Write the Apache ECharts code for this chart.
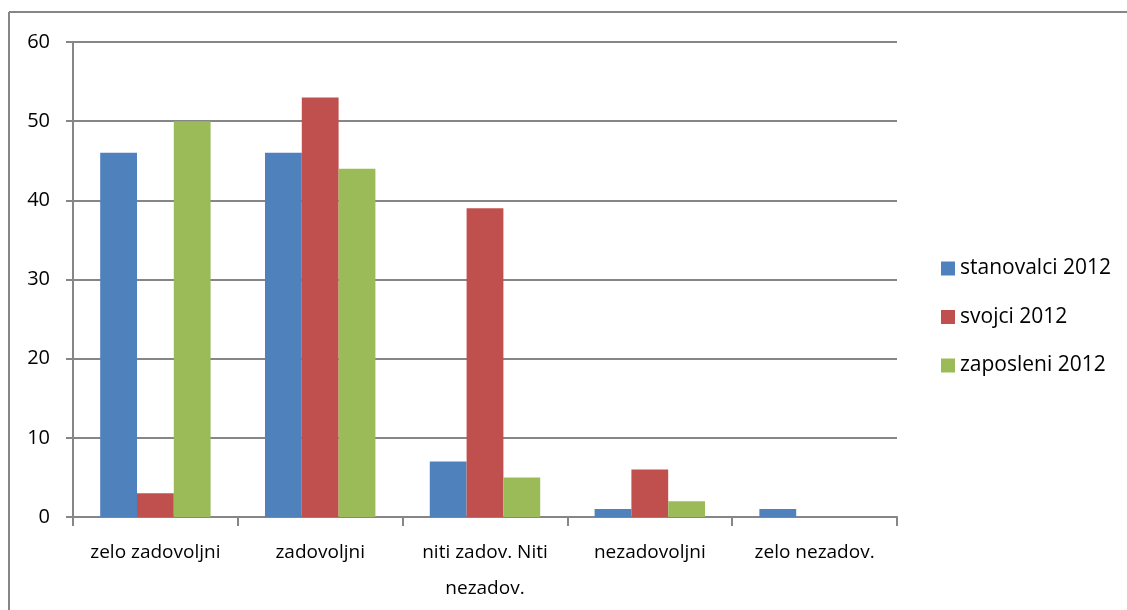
<!DOCTYPE html>
<html><head><meta charset="utf-8">
<script src="https://cdn.jsdelivr.net/npm/echarts@6/dist/echarts.min.js"></script>
<style>html,body{margin:0;padding:0;background:#fff}#c{width:1127px;height:610px}</style>
</head><body><div id="c"></div>
<script>
const categories = ['zelo zadovoljni', 'zadovoljni', 'niti zadov. Niti\nnezadov.', 'nezadovoljni', 'zelo nezadov.'];
const seriesNames = ['stanovalci 2012', 'svojci 2012', 'zaposleni 2012'];
const stanovalci = [46, 46, 7, 1, 1];
const svojci = [3, 53, 39, 6, 0];
const zaposleni = [50, 44, 5, 2, 0];
const yTicks = [0, 10, 20, 30, 40, 50, 60];
const colors = ['#4F81BD', '#C0504D', '#9BBB59'];
const FONT = '"Open Sans", "Noto Sans", sans-serif';

const chart = echarts.init(document.getElementById('c'), null, {renderer: 'canvas'});
const values = [stanovalci, svojci, zaposleni];
chart.setOption({
  animation: false,
  color: colors,
  grid: {left: 73, top: 42, width: 824, height: 475, containLabel: false},
  legend: {
    orient: 'vertical', left: 936, top: 253, itemGap: 27.5,
    itemWidth: 14, itemHeight: 14, icon: 'rect',
    textStyle: {fontFamily: FONT, fontSize: 21, color: '#000', padding: [0, 0, 0, 0]},
    data: seriesNames
  },
  xAxis: {
    type: 'category', data: categories,
    axisLine: {lineStyle: {color: '#868686', width: 2}},
    axisTick: {show: true, length: 9, lineStyle: {color: '#868686', width: 2}},
    axisLabel: {fontFamily: FONT, fontSize: 19, color: '#000', margin: 18, lineHeight: 36, interval: 0}
  },
  yAxis: {
    type: 'value', min: yTicks[0], max: yTicks[yTicks.length - 1], interval: 10,
    axisLine: {show: true, lineStyle: {color: '#868686', width: 2}},
    axisTick: {show: true, length: 7, lineStyle: {color: '#868686', width: 2}},
    splitLine: {lineStyle: {color: '#868686', width: 2}},
    axisLabel: {fontFamily: FONT, fontSize: 20, color: '#000', margin: 23}
  },
  series: seriesNames.map((n, i) => ({
    name: n, type: 'bar', data: values[i],
    barGap: '0%', barCategoryGap: '33%'
  })),
  graphic: [
    {type: 'line', shape: {x1: 9, y1: 12, x2: 1127, y2: 12}, style: {stroke: '#868686', lineWidth: 2}},
    {type: 'line', shape: {x1: 9, y1: 12, x2: 9, y2: 610}, style: {stroke: '#868686', lineWidth: 2}}
  ]
});
</script></body></html>
